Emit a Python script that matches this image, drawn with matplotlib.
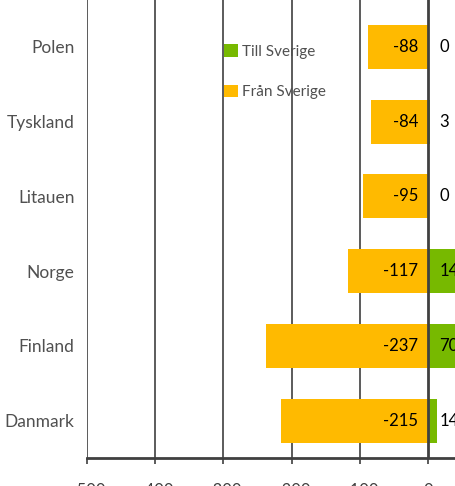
import matplotlib.pyplot as plt

# data, top to bottom as in the chart
countries = ['Polen', 'Tyskland', 'Litauen', 'Norge', 'Finland', 'Danmark']
fran_sverige = [-88, -84, -95, -117, -237, -215]
till_sverige = [0, 3, 0, 143, 70, 14]

plt.rcParams['font.family'] = ['Lato', 'DejaVu Sans']

fig = plt.figure(figsize=(4.56, 4.86), dpi=100)
# axes reach past the right edge, the reference is cropped there
ax = fig.add_axes([87 / 456, 1 - 458 / 486, (496 - 87) / 456, 458 / 486])

green = '#77B900'
orange = '#FFBA00'
pos = list(range(len(countries)))[::-1]

ax.barh(pos, till_sverige, height=0.59, color=green, label='Till Sverige', zorder=2)
ax.barh(pos, fran_sverige, height=0.59, color=orange, label='Från Sverige', zorder=2)

# value labels
for y, v in zip(pos, fran_sverige):
    ax.text(-14, y, str(v), ha='right', va='center', fontsize=12, color='black', zorder=3)
for y, v in zip(pos, till_sverige):
    ax.text(17, y, str(v), ha='left', va='center', fontsize=12, color='black', zorder=3)

ax.set_xlim(-500, 100)
ax.set_ylim(-0.5, 5.5 + 9.6 / 74.8)
ax.set_xticks(range(-500, 1, 100))
ax.set_yticks(pos)
ax.set_yticklabels(countries, fontsize=12.5, color='#505050')
ax.tick_params(axis='y', length=0, pad=9)
ax.tick_params(axis='x', length=4, width=1.2, color='#404040', labelsize=12,
               labelcolor='#404040', pad=14)

for x in range(-500, 1, 100):
    ax.axvline(x, color='#404040', lw=1.2 if x else 2, zorder=1 if x else 4)

for s in ['top', 'right', 'left']:
    ax.spines[s].set_visible(False)
ax.spines['bottom'].set_color('#404040')
ax.spines['bottom'].set_linewidth(2)

ax.legend(loc='upper left', bbox_to_anchor=(0.301, 0.934), frameon=False,
          fontsize=11, handlelength=0.9, handleheight=0.9, labelspacing=1.7,
          handletextpad=0.3, labelcolor='#505050')

fig.savefig('out.png', dpi=100)
